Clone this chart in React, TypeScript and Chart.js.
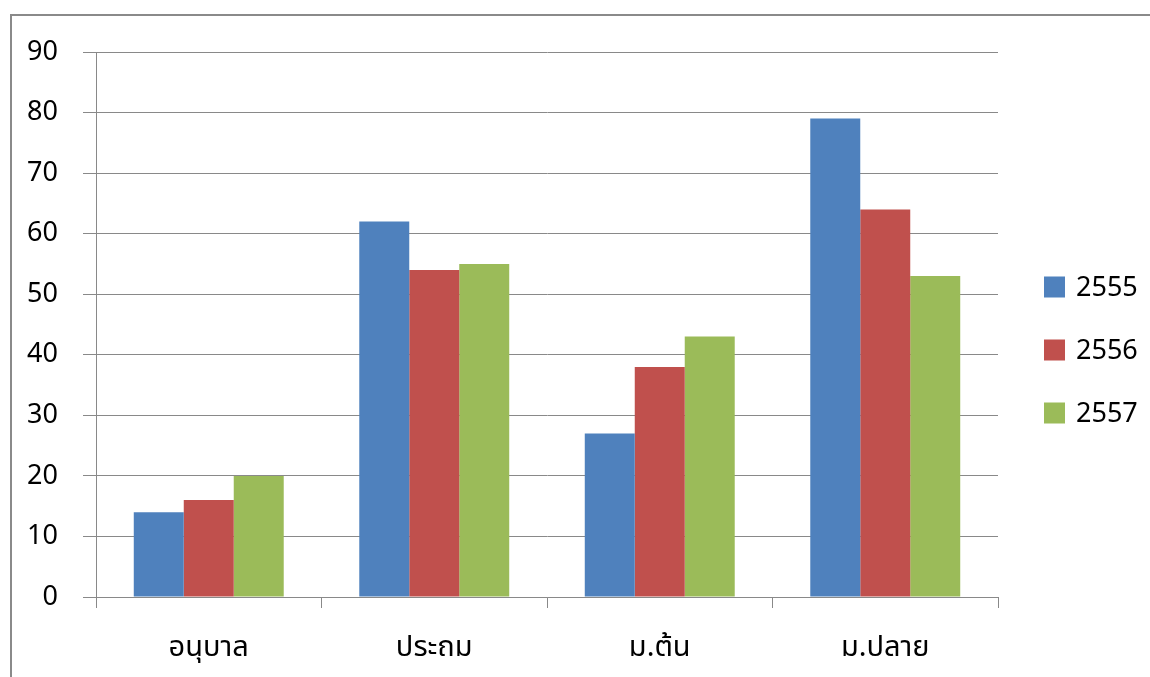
import React, { useEffect, useRef } from "react";
import { Chart, registerables } from "chart.js";
Chart.register(...registerables);

const categories = ["อนุบาล", "ประถม", "ม.ต้น", "ม.ปลาย"];
const seriesNames = ["2555", "2556", "2557"];
const values2555 = [14, 62, 27, 79];
const values2556 = [16, 54, 38, 64];
const values2557 = [20, 55, 43, 53];
const seriesColors = ["#4F81BD", "#C0504D", "#9BBB59"];
const yMin = 0;
const yMax = 90;
const yStep = 10;

const FONT = "'Noto Sans', 'Noto Sans Thai', Tahoma, 'DejaVu Sans', sans-serif";
const GRID = "#898989";

const legendPlugin = {
  id: "customLegend",
  afterDraw(chart: any) {
    const ctx = chart.ctx;
    ctx.save();
    ctx.font = `27px ${FONT}`;
    ctx.textBaseline = "middle";
    ctx.textAlign = "left";
    const x0 = 1044;
    const yStart = 287;
    const gap = 63;
    chart.data.datasets.forEach((ds: any, i: number) => {
      const cy = yStart + i * gap;
      ctx.fillStyle = ds.backgroundColor;
      ctx.fillRect(x0, cy - 10.5, 21, 21);
      ctx.fillStyle = "#000";
      ctx.fillText(ds.label, x0 + 32, cy + 1);
    });
    ctx.restore();
  },
};

export default function App() {
  const ref = useRef<HTMLCanvasElement>(null);
  useEffect(() => {
    if (!ref.current) return;
    const data = [values2555, values2556, values2557];
    const chart = new Chart(ref.current, {
      type: "bar",
      data: {
        labels: categories,
        datasets: seriesNames.map((name, i) => ({
          label: name,
          data: data[i],
          backgroundColor: seriesColors[i],
          borderWidth: 0,
          barPercentage: 1,
          categoryPercentage: 0.665,
        })),
      },
      options: {
        responsive: false,
        animation: false,
        layout: { padding: { left: 0, top: 52, right: 152, bottom: 0 } },
        plugins: { legend: { display: false }, tooltip: { enabled: false } },
        scales: {
          x: {
            grid: {
              drawOnChartArea: false,
              drawTicks: true,
              tickLength: 11,
              color: GRID,
              offset: true,
            },
            border: { display: true, color: GRID, width: 1 },
            ticks: {
              color: "#000",
              font: { family: FONT, size: 29 },
              padding: 22,
            },
            afterFit: (s: any) => {
              s.height = 80;
            },
          },
          y: {
            min: yMin,
            max: yMax,
            ticks: {
              stepSize: yStep,
              color: "#000",
              font: { family: FONT, size: 27 },
              padding: 25,
            },
            grid: { color: GRID, tickLength: 13, lineWidth: 1 },
            border: { display: true, color: GRID, width: 1 },
            afterFit: (s: any) => {
              s.width = 96;
            },
          },
        },
      },
      plugins: [legendPlugin],
    });
    return () => chart.destroy();
  }, []);
  return (
    <div
      style={{
        position: "fixed",
        left: 0,
        top: 0,
        width: 1150,
        height: 677,
        background: "#fff",
        overflow: "hidden",
      }}
    >
      <div
        style={{
          position: "absolute",
          left: 10,
          top: 14,
          width: 1200,
          height: 800,
          borderLeft: "2px solid #8a8a8a",
          borderTop: "2px solid #8a8a8a",
        }}
      />
      <canvas
        ref={ref}
        width={1150}
        height={677}
        style={{ position: "absolute", left: 0, top: 0 }}
      />
    </div>
  );
}
